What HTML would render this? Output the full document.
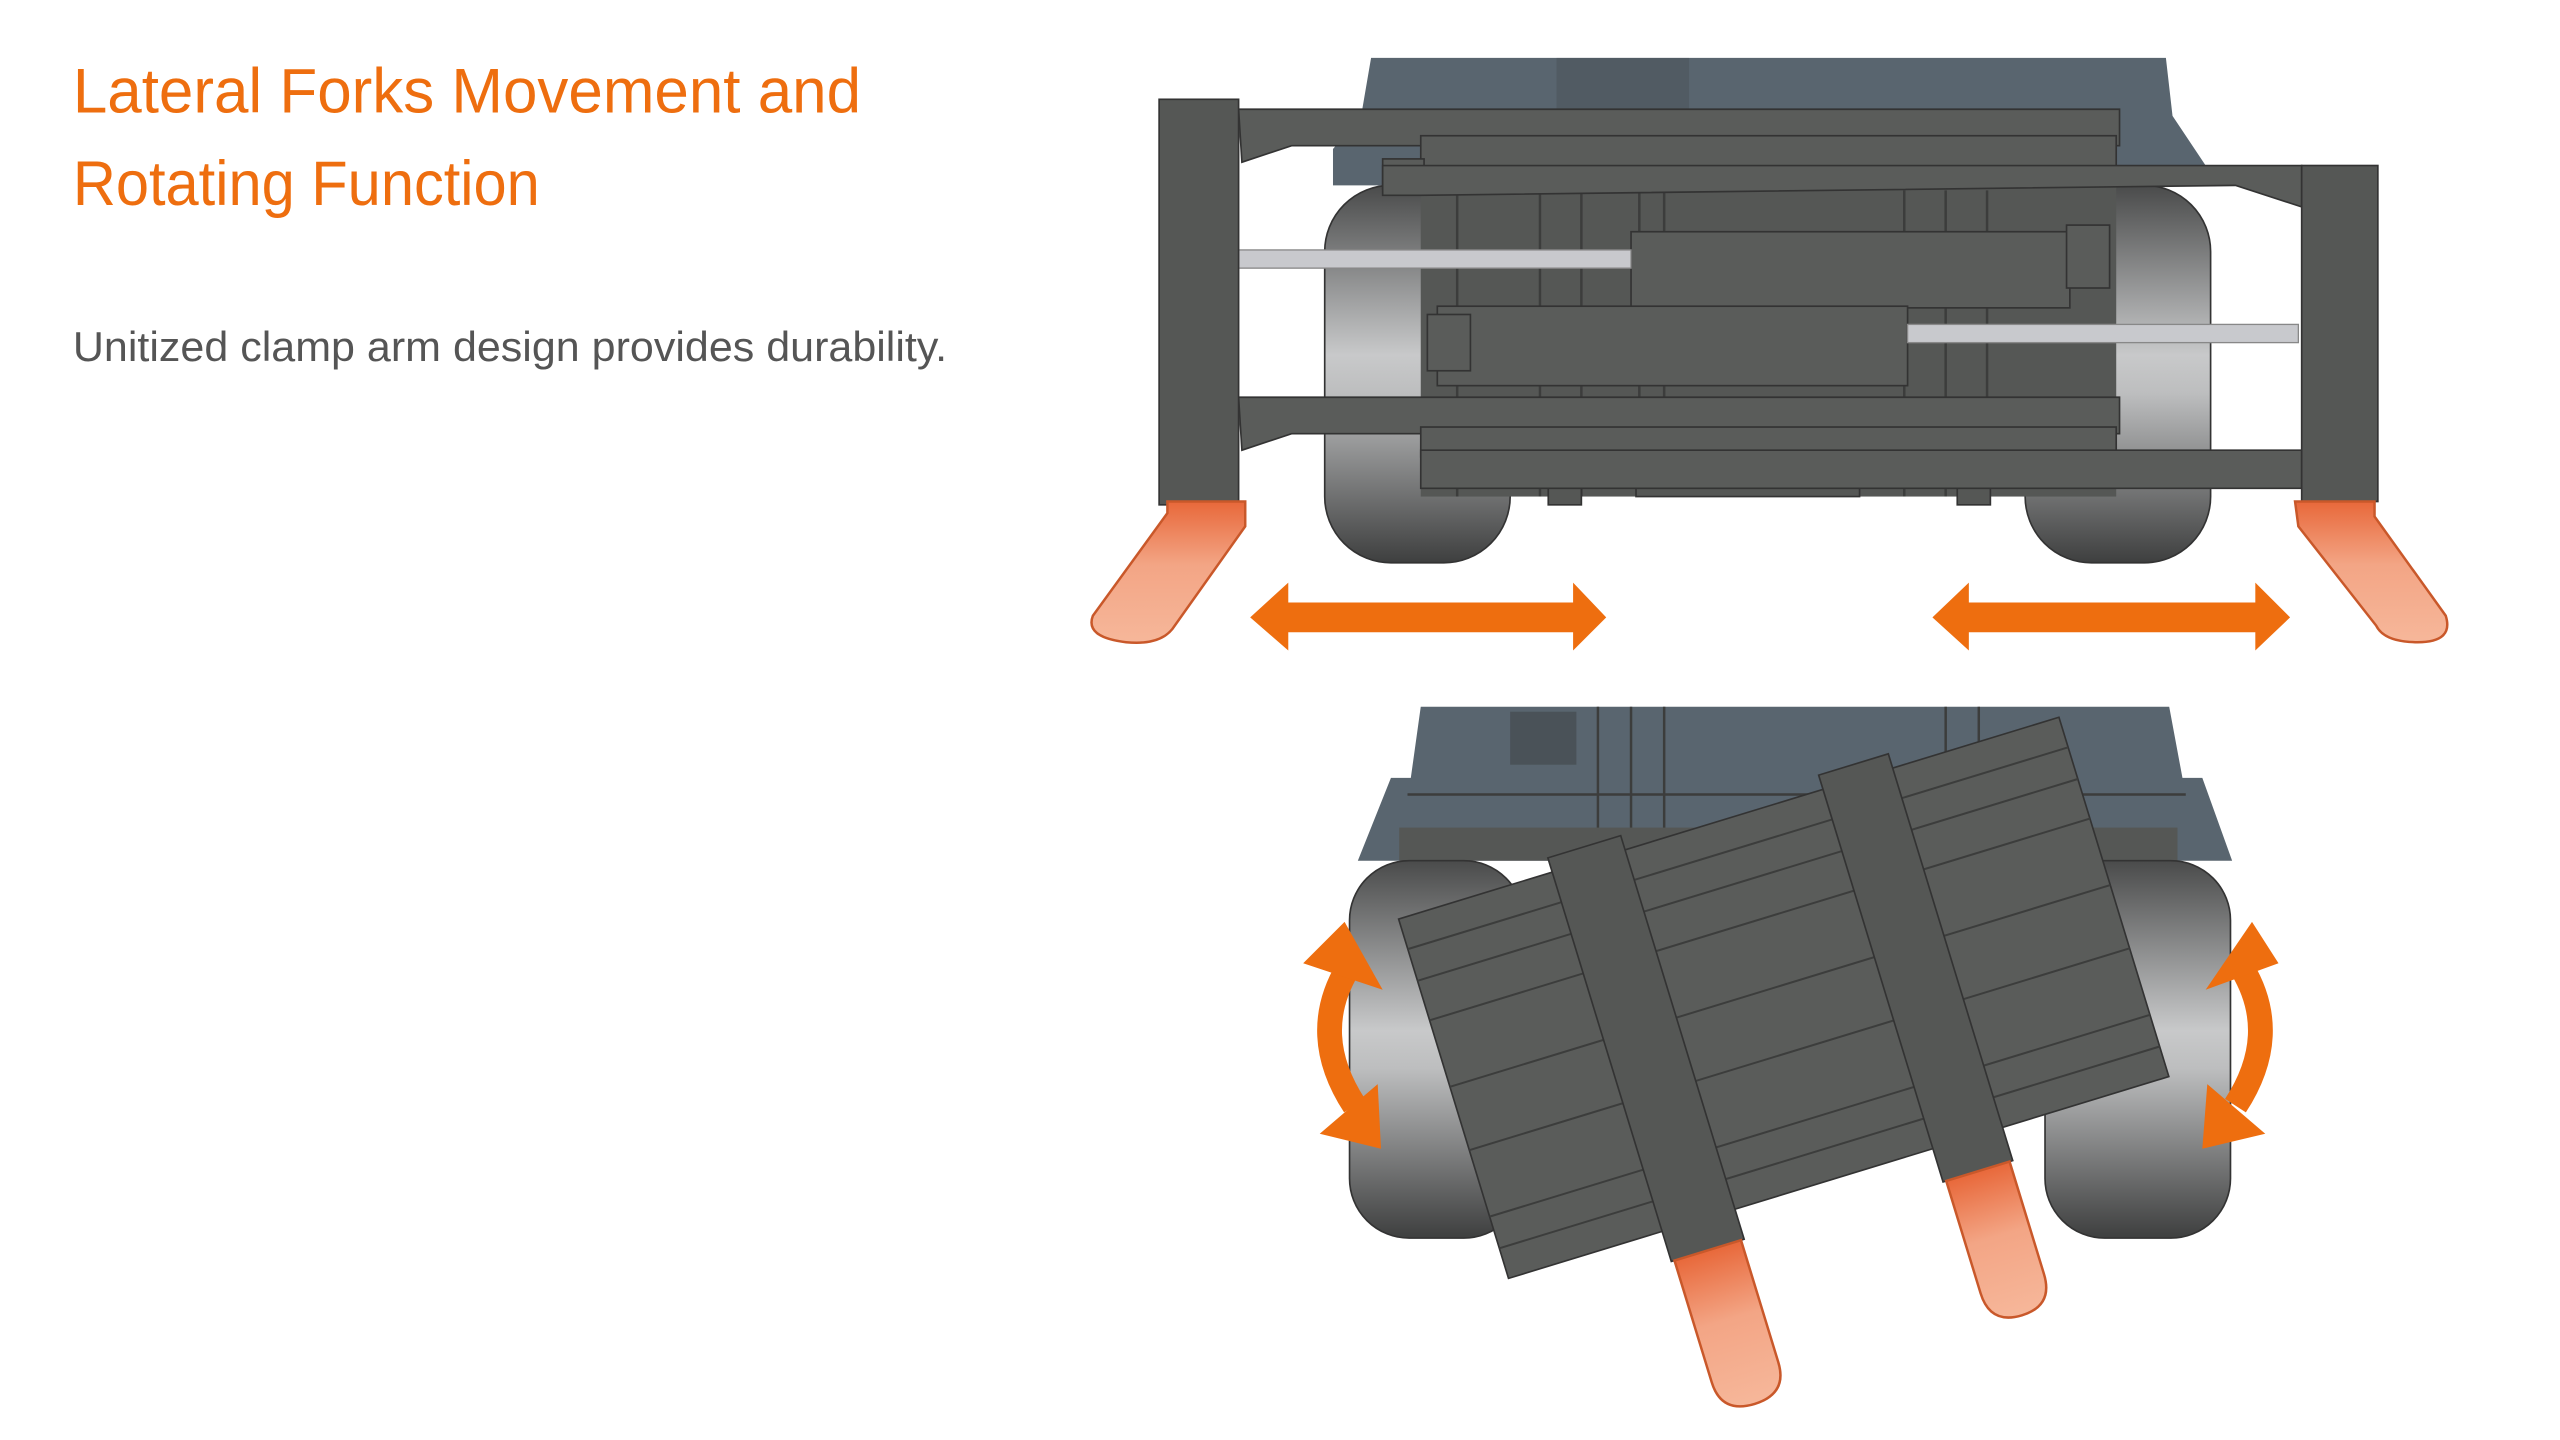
<!DOCTYPE html>
<html><head><meta charset="utf-8"><style>
html,body{margin:0;padding:0;background:#fff;width:2560px;height:1440px;overflow:hidden}
svg{display:block}
</style></head><body>
<svg width="2560" height="1440" viewBox="0 0 1546 870" preserveAspectRatio="none" xmlns="http://www.w3.org/2000/svg">
<defs>
<linearGradient id="tire" x1="0" y1="0" x2="0" y2="1">
<stop offset="0" stop-color="#4a4b4b"/><stop offset="0.45" stop-color="#c8c9ca"/><stop offset="0.55" stop-color="#bdbebf"/><stop offset="1" stop-color="#3e3f3f"/></linearGradient>
<linearGradient id="fork" x1="0" y1="0" x2="0" y2="1">
<stop offset="0" stop-color="#e8683a"/><stop offset="0.45" stop-color="#f3a585"/><stop offset="1" stop-color="#f6b79a"/></linearGradient>
</defs>
<text x="44" y="68" font-family="Liberation Sans, sans-serif" font-size="38" fill="#ee6e0f" textLength="476" lengthAdjust="spacingAndGlyphs">Lateral Forks Movement and</text>
<text x="44" y="124" font-family="Liberation Sans, sans-serif" font-size="38" fill="#ee6e0f" textLength="282" lengthAdjust="spacingAndGlyphs">Rotating Function</text>
<text x="44" y="218" font-family="Liberation Sans, sans-serif" font-size="25" fill="#555" textLength="528" lengthAdjust="spacingAndGlyphs">Unitized clamp arm design provides durability.</text>

<!-- TOP DIAGRAM -->
<path d="M828,35 L1308,35 L1312,70 L1332,100 L1332,112 L805,112 L805,90 L822,70 Z" fill="#59656f"/>
<rect x="940" y="35" width="80" height="80" fill="#4a5258" opacity=".5"/>
<rect x="800" y="112" width="112" height="228" rx="40" fill="url(#tire)" stroke="#333" stroke-width="1"/>
<rect x="1223" y="112" width="112" height="228" rx="40" fill="url(#tire)" stroke="#333" stroke-width="1"/>
<rect x="858" y="95" width="420" height="205" fill="#555755"/>
<g stroke="#3c3d3c" stroke-width="1.5" fill="none">
<line x1="880" y1="115" x2="880" y2="300"/><line x1="930" y1="115" x2="930" y2="300"/><line x1="955" y1="115" x2="955" y2="300"/><line x1="990" y1="115" x2="990" y2="300"/><line x1="1005" y1="115" x2="1005" y2="300"/><line x1="1150" y1="115" x2="1150" y2="300"/><line x1="1175" y1="115" x2="1175" y2="300"/><line x1="1200" y1="115" x2="1200" y2="300"/>
</g>
<rect x="935" y="290" width="20" height="15" fill="#555755" stroke="#333"/>
<rect x="1182" y="290" width="20" height="15" fill="#555755" stroke="#333"/>
<rect x="988" y="290" width="135" height="10" fill="#555755" stroke="#333"/>
<g fill="#5a5c5a" stroke="#333" stroke-width="1">
<path d="M748,66 L1280,66 L1280,88 L780,88 L750,98 Z"/>
<rect x="858" y="82" width="420" height="20"/>
<rect x="835" y="96" width="25" height="18"/>
<path d="M835,100 L1390,100 L1390,125 L1350,112 L858,118 L835,118 Z"/>
<path d="M748,240 L1280,240 L1280,262 L780,262 L750,272 Z"/>
<rect x="858" y="258" width="420" height="18"/>
<path d="M858,272 L1390,272 L1390,295 L1122,295 L858,295 Z"/>
<rect x="985" y="140" width="265" height="46"/>
<rect x="1248" y="136" width="26" height="38"/>
<rect x="868" y="185" width="284" height="48"/>
<rect x="862" y="190" width="26" height="34"/>
</g>
<rect x="748" y="151" width="237" height="11" fill="#c8c9cd" stroke="#888" stroke-width=".8"/>
<rect x="1152" y="196" width="236" height="11" fill="#c8c9cd" stroke="#888" stroke-width=".8"/>
<rect x="700" y="60" width="48" height="245" fill="#555755" stroke="#333"/>
<rect x="1390" y="100" width="46" height="203" fill="#555755" stroke="#333"/>
<path d="M705,303 L752,303 L752,318 L708,380 Q700,390 680,388 Q655,385 660,372 L705,310 Z" fill="url(#fork)" stroke="#c9582a" stroke-width="1.5"/>
<path d="M1386,303 L1434,303 L1434,312 L1477,372 Q1482,388 1460,388 Q1440,388 1435,378 L1388,318 Z" fill="url(#fork)" stroke="#c9582a" stroke-width="1.5"/>
<path d="M755,373 L778,352 L778,364 L950,364 L950,352 L970,373 L950,393 L950,382 L778,382 L778,393 Z" fill="#ee6e0f"/>
<path d="M1167,373 L1189,352 L1189,364 L1362,364 L1362,352 L1383,373 L1362,393 L1362,382 L1189,382 L1189,393 Z" fill="#ee6e0f"/>

<!-- BOTTOM DIAGRAM -->
<path d="M858,427 L1310,427 L1318,470 L1330,470 L1348,520 L820,520 L840,470 L852,470 Z" fill="#59656f"/>
<rect x="912" y="430" width="40" height="32" fill="#4a5258"/>
<g stroke="#3c3d3c" stroke-width="1.5"><line x1="965" y1="427" x2="965" y2="520"/><line x1="985" y1="427" x2="985" y2="520"/><line x1="1005" y1="427" x2="1005" y2="520"/><line x1="1175" y1="427" x2="1175" y2="520"/><line x1="1195" y1="427" x2="1195" y2="520"/><line x1="850" y1="480" x2="1320" y2="480"/></g>
<rect x="845" y="500" width="470" height="20" fill="#555755"/>
<rect x="815" y="520" width="105" height="228" rx="36" fill="url(#tire)" stroke="#333"/>
<rect x="1235" y="520" width="112" height="228" rx="36" fill="url(#tire)" stroke="#333"/>
<g transform="rotate(-17 1079 607)">
<rect x="870" y="489" width="417" height="227" fill="#5a5c5a" stroke="#333"/>
<g stroke="#3c3d3c" stroke-width="1.2" fill="none">
<line x1="870" y1="508" x2="1287" y2="508"/><line x1="870" y1="528" x2="1287" y2="528"/><line x1="870" y1="553" x2="1287" y2="553"/><line x1="870" y1="595" x2="1287" y2="595"/><line x1="870" y1="635" x2="1287" y2="635"/><line x1="870" y1="677" x2="1287" y2="677"/><line x1="870" y1="697" x2="1287" y2="697"/>
</g>
<rect x="967" y="480" width="46" height="255" fill="#555755" stroke="#333"/>
<rect x="1138" y="480" width="44" height="257" fill="#555755" stroke="#333"/>
<path d="M969,735 L1011,735 L1011,812 Q1011,832 990,832 Q969,832 969,812 Z" fill="url(#fork)" stroke="#c9582a" stroke-width="1.5"/>
<path d="M1140,737 L1180,737 L1180,808 Q1180,828 1160,828 Q1140,828 1140,808 Z" fill="url(#fork)" stroke="#c9582a" stroke-width="1.5"/>
</g>
<g fill="none" stroke="#ee6e0f" stroke-width="15">
<path d="M814,585 Q790,625 818,668"/>
<path d="M1354,585 Q1378,625 1350,668"/>
</g>
<g fill="#ee6e0f">
<path d="M812,557 L835,598 L787,582 Z"/>
<path d="M834,694 L797,685 L832,655 Z"/>
<path d="M1360,557 L1376,582 L1332,598 Z"/>
<path d="M1330,694 L1333,655 L1368,685 Z"/>
</g>
</svg>
</body></html>
